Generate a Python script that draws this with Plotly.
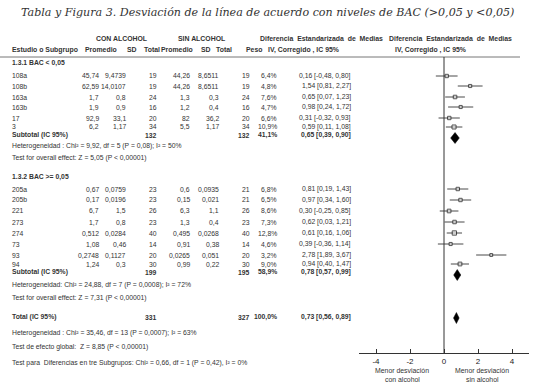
import plotly.graph_objects as go

W, H = 535, 388

title_text = "Tabla y Figura 3. Desviación de la línea de acuerdo con niveles de BAC (>0,05 y <0,05)"

# ---------------- data ----------------
g1_name = "1.3.1 BAC < 0,05"
g1_studies = ["108a", "108b", "163a", "163b", "17", "3"]
g1_mean_con = [45.74, 62.59, 1.7, 1.9, 92.9, 6.2]
g1_sd_con = [9.4739, 14.0107, 0.8, 0.9, 33.1, 1.17]
g1_n_con = [19, 19, 24, 16, 20, 34]
g1_mean_sin = [44.26, 44.26, 1.3, 1.2, 82, 5.5]
g1_sd_sin = [8.6511, 8.6511, 0.3, 0.4, 36.2, 1.17]
g1_n_sin = [19, 19, 24, 16, 20, 34]
g1_weight = [6.4, 4.8, 7.6, 4.7, 6.6, 10.9]
g1_smd = [0.16, 1.54, 0.65, 0.98, 0.31, 0.59]
g1_lo = [-0.48, 0.81, 0.07, 0.24, -0.32, 0.11]
g1_hi = [0.80, 2.27, 1.23, 1.72, 0.93, 1.08]
g1_sub_n = [132, 132]
g1_sub_weight = 41.1
g1_sub_ci = [0.65, 0.39, 0.90]
g1_het = "Heterogeneidad : Chi² = 9,92, df = 5 (P = 0,08); I² = 50%"
g1_test = "Test for overall effect: Z = 5,05 (P < 0,00001)"

g2_name = "1.3.2 BAC >= 0,05"
g2_studies = ["205a", "205b", "221", "273", "274", "73", "93", "94"]
g2_mean_con = [0.67, 0.17, 6.7, 1.7, 0.512, 1.08, 0.2748, 1.24]
g2_sd_con = [0.0759, 0.0196, 1.5, 0.8, 0.0284, 0.46, 0.1127, 0.3]
g2_n_con = [23, 23, 26, 23, 40, 14, 20, 30]
g2_mean_sin = [0.6, 0.15, 6.3, 1.3, 0.495, 0.91, 0.0265, 0.99]
g2_sd_sin = [0.0935, 0.021, 1.1, 0.4, 0.0268, 0.38, 0.051, 0.22]
g2_n_sin = [21, 21, 26, 23, 40, 14, 20, 30]
g2_weight = [6.8, 6.5, 8.6, 7.3, 12.8, 4.6, 3.2, 9.0]
g2_smd = [0.81, 0.97, 0.30, 0.62, 0.61, 0.39, 2.78, 0.94]
g2_lo = [0.19, 0.34, -0.25, 0.03, 0.16, -0.36, 1.89, 0.40]
g2_hi = [1.43, 1.60, 0.85, 1.21, 1.06, 1.14, 3.67, 1.47]
g2_sub_n = [199, 195]
g2_sub_weight = 58.9
g2_sub_ci = [0.78, 0.57, 0.99]
g2_het = "Heterogeneidad: Chi² = 24,88, df = 7 (P = 0,0008); I² = 72%"
g2_test = "Test for overall effect: Z = 7,31 (P < 0,00001)"

tot_n = [331, 327]
tot_weight = 100.0
tot_ci = [0.73, 0.56, 0.89]
tot_het = "Heterogeneidad : Chi² = 35,46, df = 13 (P = 0,0007); I² = 63%"
tot_test = "Test de efecto global:  Z = 8,85 (P < 0,00001)"
sub_test = "Test para  Diferencias en tre Subgrupos: Chi² = 0,66, df = 1 (P = 0,42), I² = 0%"

x_ticks = [-4, -2, 0, 2, 4]
x_label_left = ["Menor desviación", "con alcohol"]
x_label_right = ["Menor desviación", "sin alcohol"]

# ---------------- layout (pixel rows) ----------------
g1_head_y = 63
g1_rows_y = [76, 86, 97, 107, 118, 127]
g1_sub_y = 135
g1_het_y, g1_test_y = 146, 158
g2_head_y = 177
g2_rows_y = [189, 200, 211, 222, 233, 244, 255, 264]
g2_sub_y = 272
g2_het_y, g2_test_y = 285, 298
tot_y = 317
tot_het_y, tot_test_y, sub_test_y = 333, 347, 363
axis_y = 353
line_y = 57

# column right edges (px)
c_mc, c_sc, c_nc = 100, 127, 158
c_ms, c_ss, c_ns = 191, 220, 251
c_w, c_ci = 278, 352
c_lab = 11

FONT = "Liberation Sans, Arial, sans-serif"
FS = 6.8
HS = 6.9
TXT = "#333333"
NB = "\u00a0"


def fmt(v):
    return str(v).replace(".", ",")


def fci(e, l, h):
    return f"{e:.2f} [{l:.2f}, {h:.2f}]".replace(".", ",")


def fw(w):
    return f"{w:.1f}%".replace(".", ",")


ann = []


def txt(x, y, s, anchor="right", bold=False, size=FS, color=TXT):
    ann.append(dict(
        x=x / W, y=1 - y / H, xref="paper", yref="paper", text=s, showarrow=False,
        xanchor=anchor, yanchor="middle", borderpad=0,
        font=dict(family=FONT, size=size, color=color, weight="bold" if bold else "normal"),
    ))


# title
ann.append(dict(x=0.5, y=1 - 12 / H, xref="paper", yref="paper", text=title_text,
                showarrow=False, xanchor="center", yanchor="middle",
                font=dict(family="DejaVu Serif, serif", size=11.1, color="#333", style="italic")))

# header
dif = (" " + NB).join(["Diferencia", "Estandarizada", "de", "Medias"])
txt(122, 39, "CON ALCOHOL", "center", True, HS)
txt(201, 39, "SIN ALCOHOL", "center", True, HS)
txt(321, 39, dif, "center", True, HS)
txt(450, 39, dif, "center", True, HS)
txt(c_lab, 50, "Estudio o Subgrupo", "left", True, HS)
txt(118, 50, "Promedio", "right", True, HS)
txt(138, 50, "SD", "right", True, HS)
txt(161, 50, "Total", "right", True, HS)
txt(194, 50, "Promedio", "right", True, HS)
txt(212, 50, "SD", "right", True, HS)
txt(233, 50, "Total", "right", True, HS)
txt(263, 50, "Peso", "right", True, HS)
txt(303, 50, "IV, Corregido , IC 95%", "center", True, HS)
txt(430, 50, "IV, Corregido , IC 95%", "center", True, HS)


def group(name, hy, studies, mc, sc, nc, ms, ss, ns, w, e, lo, hi, rows_y,
          sub_n, sub_w, sub_ci, sub_y, het, het_y, test, test_y):
    txt(c_lab, hy, name, "left", True)
    for i, s in enumerate(studies):
        y = rows_y[i]
        txt(c_lab, y, s, "left")
        txt(c_mc, y, fmt(mc[i]))
        txt(c_sc, y, fmt(sc[i]))
        txt(c_nc, y, fmt(nc[i]))
        txt(c_ms, y, fmt(ms[i]))
        txt(c_ss, y, fmt(ss[i]))
        txt(c_ns, y, fmt(ns[i]))
        txt(c_w, y, fw(w[i]))
        txt(c_ci, y, fci(e[i], lo[i], hi[i]))
    txt(c_lab, sub_y, "Subtotal (IC 95%)", "left", True)
    txt(c_nc, sub_y, str(sub_n[0]), bold=True)
    txt(c_ns, sub_y, str(sub_n[1]), bold=True)
    txt(c_w, sub_y, fw(sub_w), bold=True)
    txt(c_ci, sub_y, fci(*sub_ci), bold=True)
    txt(c_lab, het_y, het, "left")
    txt(c_lab, test_y, test, "left")


group(g1_name, g1_head_y, g1_studies, g1_mean_con, g1_sd_con, g1_n_con, g1_mean_sin,
      g1_sd_sin, g1_n_sin, g1_weight, g1_smd, g1_lo, g1_hi, g1_rows_y,
      g1_sub_n, g1_sub_weight, g1_sub_ci, g1_sub_y, g1_het, g1_het_y, g1_test, g1_test_y)
group(g2_name, g2_head_y, g2_studies, g2_mean_con, g2_sd_con, g2_n_con, g2_mean_sin,
      g2_sd_sin, g2_n_sin, g2_weight, g2_smd, g2_lo, g2_hi, g2_rows_y,
      g2_sub_n, g2_sub_weight, g2_sub_ci, g2_sub_y, g2_het, g2_het_y, g2_test, g2_test_y)

txt(c_lab, tot_y, "Total (IC 95%)", "left", True)
txt(c_nc, tot_y, str(tot_n[0]), bold=True)
txt(c_ns, tot_y, str(tot_n[1]), bold=True)
txt(c_w, tot_y, fw(tot_weight), bold=True)
txt(c_ci, tot_y, fci(*tot_ci), bold=True)
txt(c_lab, tot_het_y, tot_het, "left")
txt(c_lab, tot_test_y, tot_test, "left")
txt(c_lab, sub_test_y, sub_test, "left")

for i, s in enumerate(x_label_left):
    txt(402, 370 + 9.5 * i, s, "center", size=6.9)
for i, s in enumerate(x_label_right):
    txt(482, 370 + 9.5 * i, s, "center", size=6.9)

# ---------------- forest marks ----------------
fig = go.Figure()

all_e = g1_smd + g2_smd
all_lo = g1_lo + g2_lo
all_hi = g1_hi + g2_hi
all_y = g1_rows_y + g2_rows_y
all_w = g1_weight + g2_weight

ci_x, ci_y = [], []
for e_, l_, h_, y_ in zip(all_e, all_lo, all_hi, all_y):
    ci_x += [l_, h_, None]
    ci_y += [y_, y_, None]
fig.add_trace(go.Scatter(x=ci_x, y=ci_y, mode="lines",
                         line=dict(color="#4a4a4a", width=1), hoverinfo="skip"))
fig.add_trace(go.Scatter(x=all_e, y=all_y, mode="markers",
                         marker=dict(symbol="square", size=[2.4 + 0.15 * w for w in all_w],
                                     color="#e0e0e0", line=dict(color="#111", width=1)),
                         hoverinfo="skip"))

for ci, y_ in [(g1_sub_ci, g1_sub_y + 3), (g2_sub_ci, g2_sub_y + 3), (tot_ci, tot_y + 1)]:
    e_, l_, h_ = ci
    fig.add_trace(go.Scatter(x=[l_, e_, h_, e_, l_], y=[y_, y_ - 5.5, y_, y_ + 5.5, y_],
                             mode="lines", fill="toself", fillcolor="black",
                             line=dict(color="black", width=0.5), hoverinfo="skip"))

shapes = [
    dict(type="line", xref="paper", yref="y", x0=0, x1=520 / W, y0=line_y, y1=line_y,
         line=dict(color="#777", width=1)),
    dict(type="line", xref="x", yref="y", x0=0, x1=0, y0=line_y, y1=axis_y,
         line=dict(color="#333", width=1)),
]

fig.update_layout(
    width=W, height=H, margin=dict(l=0, r=0, t=0, b=0),
    paper_bgcolor="white", plot_bgcolor="white", showlegend=False,
    annotations=ann, shapes=shapes,
    xaxis=dict(domain=[359 / W, 529 / W], range=[-5, 5], tickvals=x_ticks,
               ticktext=[str(t) for t in x_ticks],
               showline=True, linecolor="#333", linewidth=1, ticks="inside", ticklen=4,
               tickcolor="#333", showgrid=False, zeroline=False,
               tickfont=dict(family=FONT, size=8, color="#222")),
    yaxis=dict(domain=[(H - axis_y) / H, 1], range=[axis_y, 0], visible=False,
               showgrid=False, zeroline=False),
)

fig.write_html("out.html", config={"displayModeBar": False},
               post_script="document.body.style.margin='0';")
